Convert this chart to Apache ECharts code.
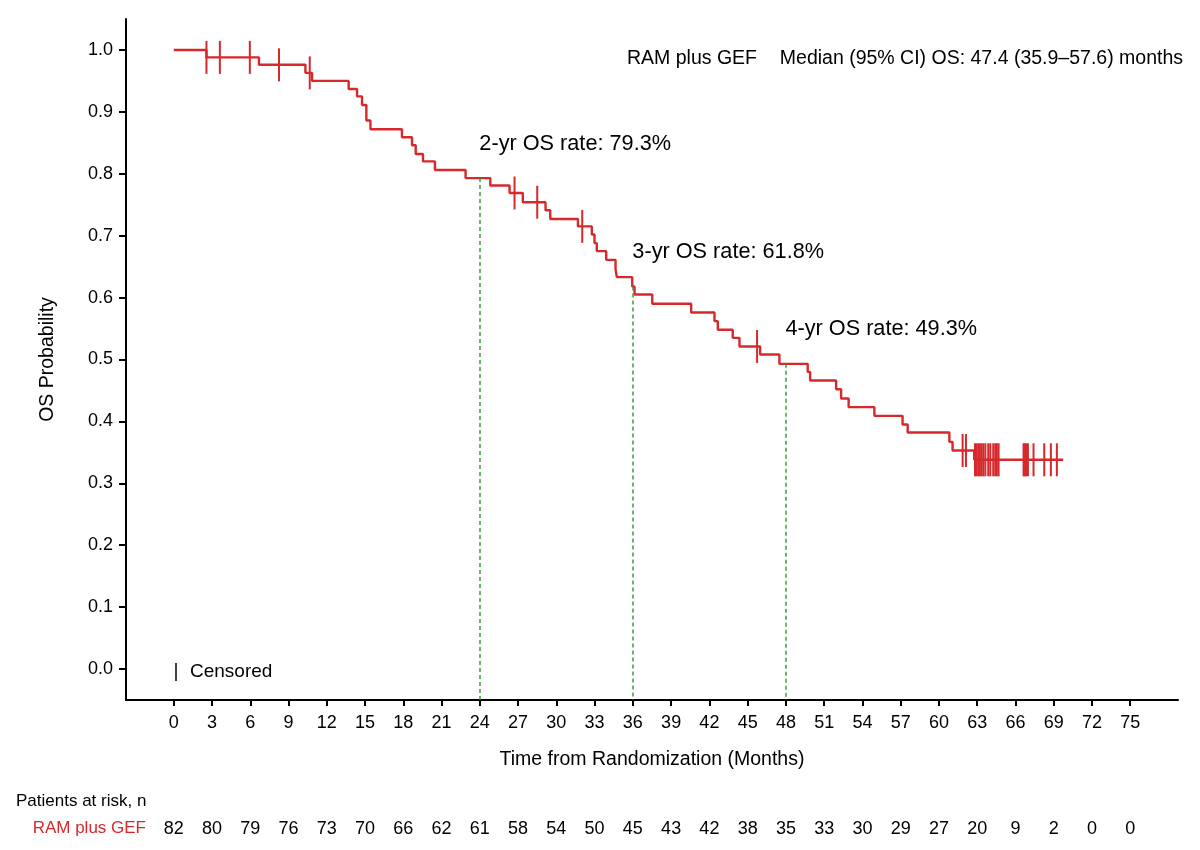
<!DOCTYPE html>
<html>
<head>
<meta charset="utf-8">
<style>
  html, body { margin: 0; padding: 0; background: #fff; }
  #chart { width: 1200px; height: 850px; }
</style>
<script src="https://cdn.jsdelivr.net/npm/echarts@6.0.0/dist/echarts.min.js"></script>
</head>
<body>
<div id="chart"></div>
<script>
// Kaplan-Meier step points: time of event (months) and survival after it
const kmTimes = [0, 2.56, 6.68, 10.32, 10.84, 13.71, 14.37, 14.76, 15.10, 15.42,
  17.89, 18.68, 18.97, 19.54, 20.48, 22.88, 24.82, 26.33, 27.37, 29.15,
  29.52, 31.69, 32.78, 32.99, 33.17, 33.91, 34.64, 34.74, 35.95, 36.13,
  37.52, 40.57, 42.40, 42.66, 43.83, 44.36, 45.98, 47.49, 49.71, 49.90,
  51.94, 52.33, 52.92, 54.94, 57.15, 57.55, 60.82, 61.07, 62.77, 69.75];
const kmSurv = [1.0, 0.988, 0.976, 0.963, 0.950, 0.937, 0.925, 0.911, 0.886, 0.872,
  0.859, 0.846, 0.832, 0.820, 0.806, 0.793, 0.781, 0.769, 0.754, 0.741,
  0.727, 0.715, 0.702, 0.688, 0.675, 0.661, 0.646, 0.633, 0.618, 0.605,
  0.590, 0.576, 0.562, 0.548, 0.535, 0.521, 0.508, 0.493, 0.480, 0.466,
  0.452, 0.437, 0.423, 0.409, 0.395, 0.382, 0.367, 0.353, 0.338, 0.338];

// censored observations
const censorTimes = [2.56, 3.61, 5.96, 8.25, 10.66, 26.72, 28.50, 32.03, 45.74,
  61.86, 62.12, 62.83, 62.96,
  63.09, 63.21, 63.34, 63.48, 63.64, 63.87, 64.03, 64.26, 64.42, 64.54, 64.68,
  66.64, 66.73, 66.83, 66.98, 67.42, 68.26, 68.78, 69.25];
const censorSurv = [0.988, 0.988, 0.988, 0.976, 0.963, 0.769, 0.754, 0.715, 0.521,
  0.353, 0.353, 0.338, 0.338,
  0.338, 0.338, 0.338, 0.338, 0.338, 0.338, 0.338, 0.338, 0.338, 0.338, 0.338,
  0.338, 0.338, 0.338, 0.338, 0.338, 0.338, 0.338, 0.338];

// landmark OS rates
const landmarkYears = [2, 3, 4];
const landmarkMonths = [24, 36, 48];
const landmarkRates = [79.3, 61.8, 49.3];

// ticks and patients at risk
const xTicks = [0, 3, 6, 9, 12, 15, 18, 21, 24, 27, 30, 33, 36, 39, 42, 45, 48, 51, 54, 57, 60, 63, 66, 69, 72, 75];
const yTicks = [0, 0.1, 0.2, 0.3, 0.4, 0.5, 0.6, 0.7, 0.8, 0.9, 1.0];
const riskCounts = [82, 80, 79, 76, 73, 70, 66, 62, 61, 58, 54, 50, 45, 43, 42, 38, 35, 33, 30, 29, 27, 20, 9, 2, 0, 0];

const FONT = '"Liberation Sans", Arial, Helvetica, sans-serif';
const RED = '#d7282b';
const GREEN = '#3a9d3a';

const chart = echarts.init(document.getElementById('chart'), null, { renderer: 'canvas' });

const option = {
  animation: false,
  backgroundColor: '#fff',
  textStyle: { fontFamily: FONT, color: '#000' },
  grid: [
    { left: 126, right: 22, top: 19, bottom: 150, outerBoundsMode: 'none' },
    { left: 126, right: 22, top: 819, height: 20, outerBoundsMode: 'none' }
  ],
  xAxis: [
    {
      type: 'value', min: -3.75, max: 78.75,
      name: 'Time from Randomization (Months)',
      nameLocation: 'middle', nameGap: 50,
      nameTextStyle: { fontSize: 19.5, color: '#000', fontFamily: FONT },
      axisLine: { onZero: false, lineStyle: { color: '#000', width: 2 } },
      axisTick: { customValues: xTicks, length: 6, lineStyle: { color: '#000', width: 2 } },
      axisLabel: { customValues: xTicks, fontSize: 18, color: '#000', margin: 14, fontFamily: FONT },
      splitLine: { show: false }
    },
    { gridIndex: 1, type: 'value', min: -3.75, max: 78.75, show: false }
  ],
  yAxis: [
    {
      type: 'value', min: -0.05, max: 1.05,
      name: 'OS Probability',
      nameLocation: 'middle', nameGap: 68,
      nameTextStyle: { fontSize: 19.5, color: '#000', fontFamily: FONT },
      axisLine: { show: true, onZero: false, lineStyle: { color: '#000', width: 2 } },
      axisTick: { show: true, customValues: yTicks, length: 7, lineStyle: { color: '#000', width: 2 } },
      axisLabel: { customValues: yTicks, fontSize: 18, color: '#000', margin: 13, fontFamily: FONT,
        formatter: v => v.toFixed(1) },
      splitLine: { show: false }
    },
    { gridIndex: 1, type: 'value', min: -1, max: 1, show: false }
  ],
  series: [
    {
      name: 'RAM plus GEF',
      type: 'line',
      step: 'end',
      showSymbol: false,
      data: kmTimes.map((t, i) => [t, kmSurv[i]]),
      lineStyle: { color: RED, width: 2.4 },
      itemStyle: { color: RED },
      z: 3,
      markLine: {
        silent: true,
        symbol: 'none',
        label: { show: false },
        lineStyle: { color: GREEN, type: [4, 3], width: 1.5 },
        data: landmarkMonths.map((m, i) => [
          { coord: [m, landmarkRates[i] / 100] },
          { coord: [m, -0.05] }
        ])
      }
    },
    {
      name: 'Censored',
      type: 'scatter',
      symbol: 'rect',
      symbolSize: [2, 33],
      itemStyle: { color: RED, opacity: 1 },
      data: censorTimes.map((t, i) => [t, censorSurv[i]]),
      z: 4
    },
    {
      name: 'landmarks',
      type: 'scatter',
      symbolSize: 1,
      itemStyle: { color: 'transparent', opacity: 1 },
      data: landmarkMonths.map((m, i) => [m, landmarkRates[i] / 100]),
      label: {
        show: true,
        position: [0, 0],
        offset: [0, -34],
        align: 'left',
        verticalAlign: 'middle',
        fontSize: 21.7,
        color: '#000',
        opacity: 1,
        fontFamily: FONT,
        formatter: p => landmarkYears[p.dataIndex] + '-yr OS rate: ' + landmarkRates[p.dataIndex].toFixed(1) + '%'
      }
    },
    {
      name: 'at risk',
      type: 'scatter',
      xAxisIndex: 1,
      yAxisIndex: 1,
      symbolSize: 1,
      itemStyle: { color: 'transparent', opacity: 1 },
      data: xTicks.map((t, i) => [t, 0, riskCounts[i]]),
      label: {
        show: true,
        position: 'inside',
        fontSize: 18,
        color: '#000',
        opacity: 1,
        fontFamily: FONT,
        formatter: p => String(p.value[2])
      }
    }
  ],
  graphic: [
    { type: 'text', left: 627, top: 49,
      style: { text: 'RAM plus GEF', fontSize: 19.5, fill: '#000', fontFamily: FONT } },
    { type: 'text', right: 17, top: 49,
      style: { text: 'Median (95% CI) OS: 47.4 (35.9\u201357.6) months', fontSize: 19.5, fill: '#000', fontFamily: FONT } },
    { type: 'line', shape: { x1: 176, y1: 663, x2: 176, y2: 681 },
      style: { stroke: '#000', lineWidth: 1.5 } },
    { type: 'text', left: 190, top: 662,
      style: { text: 'Censored', fontSize: 19, fill: '#000', fontFamily: FONT } },
    { type: 'text', left: 16, top: 793,
      style: { text: 'Patients at risk, n', fontSize: 17, fill: '#000', fontFamily: FONT } },
    { type: 'text', right: 1054, top: 820,
      style: { text: 'RAM plus GEF', fontSize: 17, fill: RED, fontFamily: FONT } }
  ]
};

chart.setOption(option);
</script>
</body>
</html>
